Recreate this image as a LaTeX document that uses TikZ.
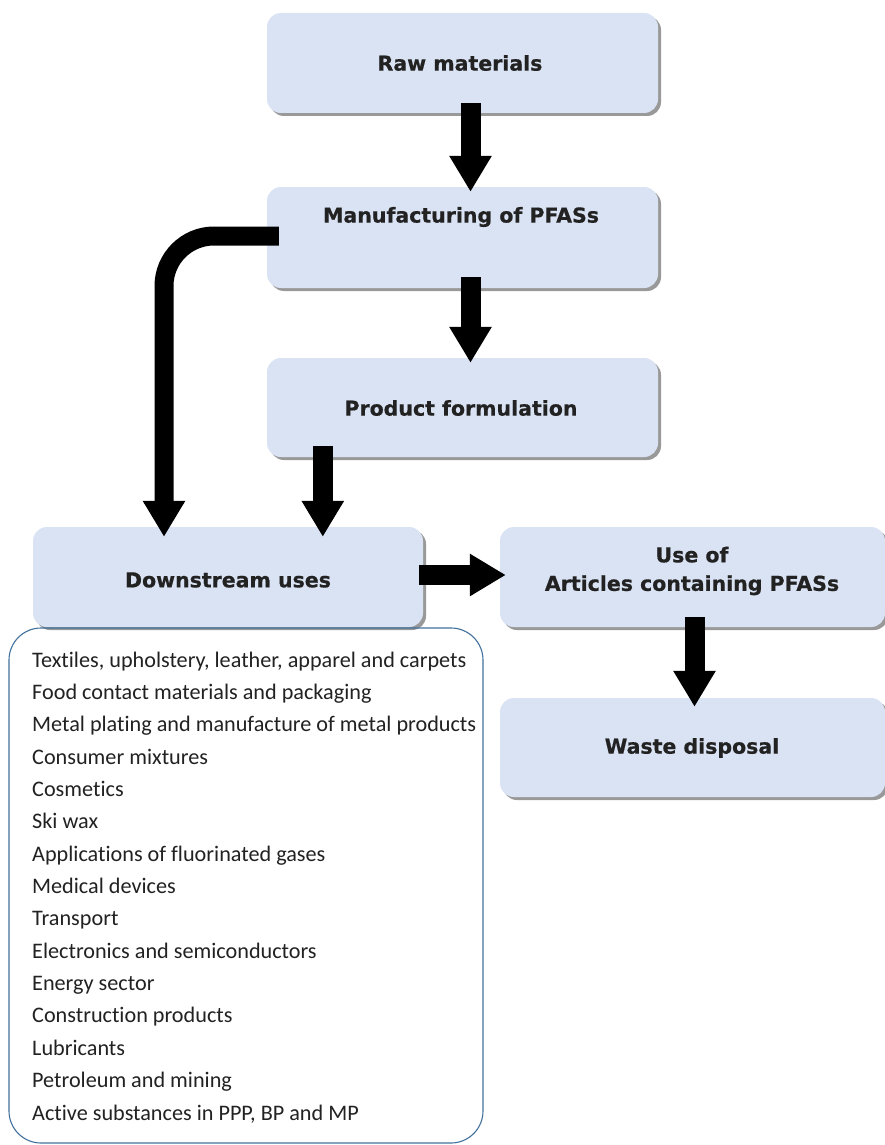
\documentclass[tikz,border=0pt]{standalone}
\usepackage{fontspec}
\setmainfont{Carlito}[Ligatures=NoCommon]
\newfontfamily\headfont{DejaVu Sans}[BoldFeatures={FakeBold=0.6}]
\usetikzlibrary{arrows.meta,shadows,calc}
\definecolor{boxfill}{HTML}{DAE3F3}
\definecolor{listline}{HTML}{41719C}
\definecolor{txt}{HTML}{222222}
\begin{document}
\begin{tikzpicture}[x=1pt,y=1pt,
  stagebox/.style={rounded corners=14pt, fill=boxfill, draw=none,
    drop shadow={shadow xshift=3pt, shadow yshift=-3pt, fill=black!50, opacity=0.8},
    inner sep=0pt},
  title/.style={font=\headfont\bfseries\fontsize{20.5}{29}\selectfont, text=txt, align=center, inner sep=0pt},
  item/.style={font=\fontsize{22.2}{26}\selectfont, text=txt, anchor=base west, inner sep=0pt},
  bigarrow/.style={line width=20pt, draw=black, -{Triangle[width=40pt,length=36pt]}},
]
\useasboundingbox (0,0) rectangle (885,-1145);
\fill[white] (0,0) rectangle (885,-1145);

% boxes
\node[stagebox, minimum width=391pt, minimum height=100pt] (raw) at (462.5,-63) {};
\node[stagebox, minimum width=391pt, minimum height=101pt] (mfg) at (462.5,-237.5) {};
\node[stagebox, minimum width=391pt, minimum height=99pt] (prod) at (462.5,-407.5) {};
\node[stagebox, minimum width=390pt, minimum height=100pt] (down) at (228,-577) {};
\node[stagebox, minimum width=385pt, minimum height=100pt] (use) at (692.5,-577) {};
\node[stagebox, minimum width=385pt, minimum height=99pt] (waste) at (692.5,-747.5) {};

% titles
\node[title] (rawt) at (460,-63) {Raw materials};
\node[title] (mfgt) at (461,-217) {Manufacturing of PFASs};
\node[title] (prodt) at (461,-408) {Product formulation};
\node[title] (downt) at (228,-580) {Downstream uses};
\node[title, font=\headfont\bfseries\fontsize{20.5}{28.5}\selectfont] (uset) at (692,-571) {Use of\\Articles containing PFASs};
\node[title] (wastet) at (692,-748) {Waste disposal};

% list box
\draw[listline, line width=1.1pt, rounded corners=32pt] (9,-628) rectangle (483,-1143);
\foreach \t [count=\i] in {{Textiles, upholstery, leather, apparel and carpets},
  {Food contact materials and packaging},
  {Metal plating and manufacture of metal products},
  {Consumer mixtures},
  {Cosmetics},
  {Ski wax},
  {Applications of fluorinated gases},
  {Medical devices},
  {Transport},
  {Electronics and semiconductors},
  {Energy sector},
  {Construction products},
  {Lubricants},
  {Petroleum and mining},
  {Active substances in PPP, BP and MP}}
  \node[item] (l\i) at (32,{-667-32.36*(\i-1)}) {\t};

% arrows
\coordinate (a1s) at ([shift={(8pt,10pt)}]raw.south);
\draw[bigarrow] (a1s) -- ($(a1s |- mfg.north)+(0,-5pt)$);
\coordinate (a2s) at ([shift={(8pt,11pt)}]mfg.south);
\draw[bigarrow] (a2s) -- ($(a2s |- prod.north)+(0,-5pt)$);
\coordinate (a3s) at ([shift={(12pt,1.5pt)}]mfg.west);
\coordinate (a3e) at ([shift={(-64pt,-10pt)}]down.north);
\draw[bigarrow, line width=19pt, rounded corners=50pt] (a3s) -| (a3e);
\coordinate (a4s) at ([shift={(56pt,11pt)}]prod.south west);
\draw[bigarrow] (a4s) -- ($(a4s |- down.north)+(0,-10pt)$);
\coordinate (a5s) at ([shift={(-4pt,2pt)}]down.east);
\draw[bigarrow] (a5s) -- ($(a5s -| use.west)+(6pt,0)$);
\coordinate (a6s) at ([shift={(2pt,10pt)}]use.south);
\draw[bigarrow] (a6s) -- ($(a6s |- waste.north)+(0,-9pt)$);
\end{tikzpicture}
\end{document}
